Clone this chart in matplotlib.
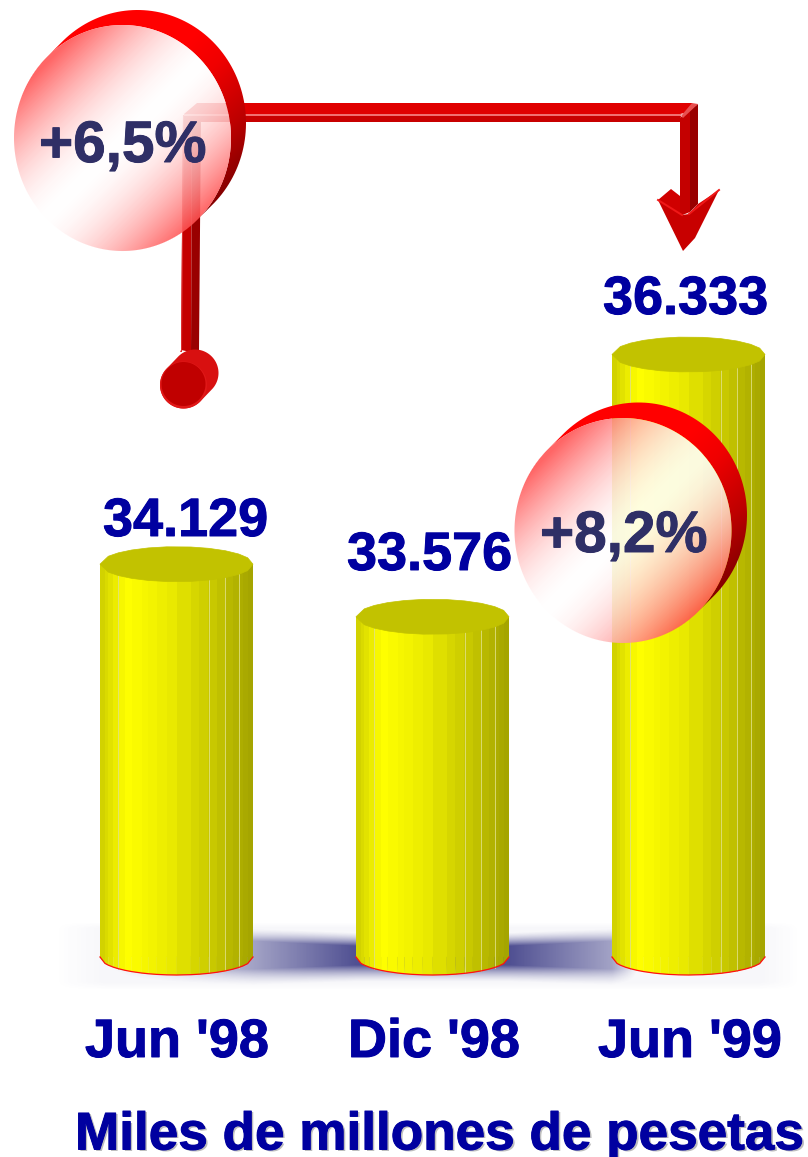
import numpy as np
import matplotlib
matplotlib.use("Agg")
import matplotlib.pyplot as plt
import matplotlib.patheffects as pe
from matplotlib.patches import Polygon, PathPatch
from matplotlib.path import Path

# ---- data ----
categories = ["Jun '98", "Dic '98", "Jun '99"]
values = [34129, 33576, 36333]
value_labels = ["34.129", "33.576", "36.333"]
growth_labels = ["+6,5%", "+8,2%"]
title_text = "Miles de millones de pesetas"

# ---- layout (pixels) ----
W, H = 808, 1157
BASE_VAL = 30000
BASE_PX = 957
PX_PER_UNIT = 602.5 / 6333
CENTERS_PX = [176.5, 432.5, 689.0]
BAR_W_PX = 153
ELL_H_PX = 18.0
LID_H_PX = 17.5
EDGES = (np.array([120, 135, 145, 160, 175, 195, 215, 245, 265, 290, 320, 350, 392, 418,
                   445, 470, 495, 518, 535, 548, 562, 578]) - 120) / 458.0
LIGHT_EDGES = [175, 445, 495, 535]
BLUE = "#0000A0"
NAVY = "#2F2F66"
FONT = "Liberation Sans"

fig = plt.figure(figsize=(W / 100, H / 100), dpi=100, facecolor="white")


def px_axes(z):
    a = fig.add_axes([0, 0, 1, 1], zorder=z)
    a.set_xlim(0, W)
    a.set_ylim(H, 0)
    a.axis("off")
    a.patch.set_alpha(0)
    return a


ax_bg = px_axes(0)
ax_fg = px_axes(2)
ax = fig.add_axes([0, 0, 1, 1], zorder=1)
ax.patch.set_alpha(0)
ax.axis("off")
x_per_px = 1.0 / (CENTERS_PX[1] - CENTERS_PX[0])
ax.set_xlim(-CENTERS_PX[0] * x_per_px, (W - CENTERS_PX[0]) * x_per_px)
ax.set_ylim(BASE_VAL - (H - BASE_PX) / PX_PER_UNIT, BASE_VAL + BASE_PX / PX_PER_UNIT)


def show(axis, rgba, x0, y0):
    h, w = rgba.shape[:2]
    im = axis.imshow(rgba, extent=(x0, x0 + w, y0 + h, y0), interpolation="nearest",
                     aspect="auto", zorder=axis.zorder_next)
    axis.zorder_next += 1
    axis.set_xlim(0, W)
    axis.set_ylim(H, 0)
    return im


ax_bg.zorder_next = 1
ax_fg.zorder_next = 1

# ---- floor shadow ----
yy, xx = np.mgrid[920:992, 40:800] + 0.5
pale = np.clip((xx - 55) / 50, 0, 1) * np.clip((800 - xx) / 40, 0, 1)
pale = pale * np.clip((yy - 922) / 6, 0, 1) * np.clip((990 - yy) / 8, 0, 1)
dark = np.interp(xx, [253, 356, 510, 612, 640], [0.50, 0.95, 0.95, 0.50, 0.0])
dark[xx < 253] = np.interp(xx[xx < 253], [100, 253], [0.0, 0.50])
top_edge = np.interp(xx, [253, 356, 510, 612], [941, 946, 946, 941])
top_edge[xx < 253] = 941
bot_edge = np.interp(xx, [253, 356, 510, 612], [969, 965, 965, 969])
vert = np.clip((yy - top_edge + 16) / 16, 0, 1) ** 1.7 * np.clip((bot_edge + 20 - yy) / 20, 0, 1) ** 1.7
alpha = np.maximum(0.045 * pale, dark * vert)
rgba = np.zeros(xx.shape + (4,))
rgba[..., 0] = 70 / 255
rgba[..., 1] = 70 / 255
rgba[..., 2] = 140 / 255
rgba[..., 3] = alpha
show(ax_bg, rgba, 40, 920)

# ---- cylinders ----
half_w = BAR_W_PX / 2 * x_per_px
ell_val = ELL_H_PX / PX_PER_UNIT
lid_val = LID_H_PX / PX_PER_UNIT
tt = [0.0, 0.17, 0.45, 0.70, 1.0]
rr = [205, 255, 235, 205, 162]
edge_x = EDGES * 2 - 1
drop = np.sqrt(np.clip(1 - edge_x ** 2, 0, 1))
lid_x = np.r_[edge_x[::2], edge_x[-1]]
lid_drop = np.sqrt(np.clip(1 - lid_x ** 2, 0, 1))
for i, v in enumerate(values):
    for j in range(len(EDGES) - 1):
        mid = (EDGES[j] + EDGES[j + 1]) / 2
        u = (edge_x[j] + edge_x[j + 1]) / 2
        shade = np.interp(mid, tt, rr) / 255
        col = (shade, shade, 0)
        ax.bar(i + u * half_w, v - BASE_VAL, width=(edge_x[j + 1] - edge_x[j]) * half_w * 1.02,
               bottom=BASE_VAL, color=col, linewidth=0, zorder=2)
        xl, xr = i + edge_x[j] * half_w, i + edge_x[j + 1] * half_w
        ax.add_patch(Polygon([(xl, BASE_VAL + 5), (xr, BASE_VAL + 5),
                              (xr, BASE_VAL - ell_val * drop[j + 1]),
                              (xl, BASE_VAL - ell_val * drop[j])],
                             closed=True, fc=col, ec=col, lw=0.2, zorder=2))
    for e in LIGHT_EDGES:
        u = (e - 120) / 458.0 * 2 - 1
        low = BASE_VAL - ell_val * np.sqrt(1 - u ** 2)
        ax.plot([i + u * half_w] * 2, [low, v], color=(0.88, 0.88, 0.5), lw=0.6, zorder=3)
    lid = np.column_stack([np.r_[i + lid_x * half_w, i + lid_x[::-1] * half_w],
                           np.r_[v + lid_val * lid_drop, (v - lid_val * lid_drop)[::-1]]])
    ax.add_patch(Polygon(lid, closed=True, fc="#C2C200", ec="#C2C200", lw=0.5, zorder=4))
    ax.plot(i + edge_x * half_w, BASE_VAL - ell_val * drop, color="#FF1010", lw=0.9, zorder=5)


# ---- helpers for discs ----
def arc(cx, cy, rx, ry, a0, a1, n=90):
    a = np.radians(np.linspace(a0, a1, n))
    return np.column_stack([cx + rx * np.cos(a), cy + ry * np.sin(a)])


def shell(cx, cy, rx, ry, off):
    """Red crescent seen behind the front face, shaded along the diagonal."""
    pts = np.vstack([arc(cx + off, cy - off, rx, ry, -135, 45), arc(cx, cy, rx, ry, 45, -135)])
    x0, y0 = int(cx - rx - 5), int(cy - ry - off - 5)
    w, h = int(2 * rx + off + 12), int(2 * ry + off + 12)
    yy, xx = np.mgrid[y0:y0 + h, x0:x0 + w] + 0.5
    s = (xx - cx) + (yy - cy)
    red = np.interp(s, [-30, 20, 96, 165], [255, 240, 190, 125]) / 255
    img = np.zeros((h, w, 4))
    img[..., 0] = red
    img[..., 3] = 1
    im = show(ax_fg, img, x0, y0)
    im.set_clip_path(PathPatch(Path(np.vstack([pts, pts[0]])), transform=ax_fg.transData))


def face(cx, cy, rx, ry):
    """Translucent white-to-pink face."""
    x0, y0 = int(cx - rx - 3), int(cy - ry - 3)
    w, h = int(2 * rx + 7), int(2 * ry + 7)
    yy, xx = np.mgrid[y0:y0 + h, x0:x0 + w] + 0.5
    dx, dy = xx - cx, yy - cy
    t = (dx + dy) / (np.sqrt(2) * rx)
    pink = np.clip(np.abs(t - 0.02) ** 1.8 * 0.68, 0, 0.68)
    d = (np.sqrt((dx / rx) ** 2 + (dy / ry) ** 2) - 1) * min(rx, ry)
    img = np.ones((h, w, 4))
    img[..., 1] = 1 - pink
    img[..., 2] = 1 - pink
    img[..., 3] = np.clip(0.5 - d, 0, 1) * 0.88
    show(ax_fg, img, x0, y0)


def poly(pts, color):
    ax_fg.add_patch(Polygon(pts, closed=True, fc=color, ec="none", lw=0,
                            zorder=ax_fg.zorder_next))
    ax_fg.zorder_next += 1


D1 = (122.5, 138, 108.5, 113, 15)
D2 = (623, 530.5, 108.5, 112.5, 15.5)

# ---- arrow ----
poly([(181, 350), (183, 115), (192, 115), (191, 352)], "#C40000")
poly([(191, 352), (192, 115), (201, 110), (199, 352)], "#990000")
poly([(180, 352), (181, 350), (183, 115), (184, 115), (182, 352)], "#E03030")
poly([(197, 103), (692, 103), (698, 110), (680, 114), (184, 114)], "#E00000")
poly([(184, 114), (682, 114), (680, 116.5), (184, 116.5)], "#F07070")
poly([(184, 116), (681, 116), (680, 122), (184, 122)], "#C80000")
poly([(680, 118), (690, 110), (690, 212), (680, 216)], "#C40000")
poly([(690, 110), (698, 104), (698, 204), (690, 212)], "#990000")
poly([(681, 116), (692, 103), (698, 104), (683, 118)], "#E85050")
poly([(658, 200), (671, 189), (680, 196), (680, 215)], "#D00000")
poly([(698, 204), (719, 190), (689, 214)], "#D00000")
poly([(658, 200), (682, 215), (689, 214), (719, 190), (695, 238), (683, 251)], "#C80000")
ax_fg.plot([658, 682], [200, 215], color="#F01818", lw=1.4, zorder=ax_fg.zorder_next)
ax_fg.plot([689, 719], [214, 190], color="#F01818", lw=1.4, zorder=ax_fg.zorder_next)
ax_fg.zorder_next += 1

# bullet at the tail
shell_pts = np.vstack([arc(195, 373, 23.5, 23.5, -135, 45), arc(183.5, 385, 23.5, 23.5, 45, 225)])
poly(shell_pts, "#D81010")
poly(arc(183.5, 385, 23.5, 23.5, 0, 360), "#E01818")
poly(arc(183.5, 384, 22, 22, 0, 360), "#C00000")

shell(*D1)
face(*D1[:4])
shell(*D2)
face(*D2[:4])


# ---- text ----
def label(s, x, y, color, px):
    t = ax_fg.text(x, y, s, color=color, fontsize=px * 0.72, family=FONT, weight="bold",
                   ha="left", va="baseline", zorder=50)
    t.set_path_effects([pe.withStroke(linewidth=0.7, foreground=color)])
    return t


label(growth_labels[0], 39, 162, NAVY, 58.5)
label(growth_labels[1], 540, 552, NAVY, 58.5)
for s, x, y in zip(value_labels, [103, 347, 603], [536, 570, 314]):
    label(s, x, y, BLUE, 54)
for s, x in zip(categories, [85, 348, 598]):
    label(s, x, 1057, BLUE, 54)
ax_fg.text(77, 1151.5, title_text, color="#BDBDBD", fontsize=53.1 * 0.72, family=FONT,
           weight="bold", va="baseline", zorder=49)
label(title_text, 75, 1149.5, BLUE, 53.1)

fig.savefig("out.png", dpi=100)
